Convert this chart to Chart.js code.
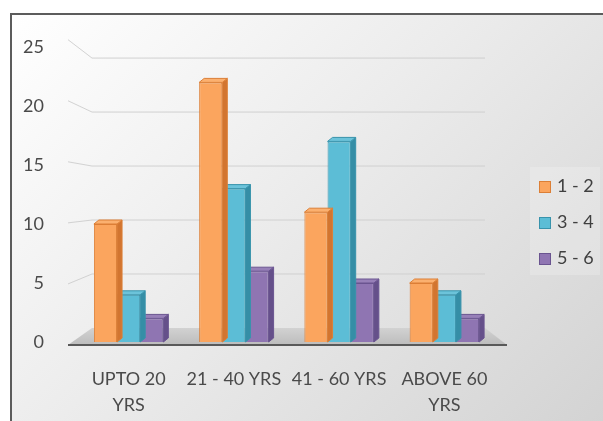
<!DOCTYPE html>
<html>
<head>
<meta charset="utf-8">
<script src="https://cdn.jsdelivr.net/npm/chart.js@4/dist/chart.umd.min.js"></script>
<style>
    body { margin: 0; background: #ffffff; }
    #frame {
        position: absolute; left: 10px; top: 13px; width: 593px; height: 408px;
        border-top: 2px solid #5c5c5c; border-left: 2px solid #5c5c5c;
        background: linear-gradient(135deg, #ffffff 0%, #ececec 45%, #d3d3d3 100%);
    }
    #c { position: absolute; left: 0; top: 0; }
    #legend {
        position: absolute; left: 530px; top: 167px; width: 70px; height: 108px;
        background: rgba(255, 255, 255, 0.2);
        font-family: Lato, sans-serif; font-size: 18px; color: #404040;
    }
    .item { position: absolute; left: 9px; height: 20px; line-height: 20px; white-space: nowrap; }
    .item span.box { display: inline-block; width: 10px; height: 10px; border: 1px solid; margin-right: 6px; vertical-align: -1px; }
</style>
</head>
<body>
<div id="frame"></div>
<canvas id="c" width="603" height="421"></canvas>
<div id="legend"></div>
<script>
// age groups on the x axis
var categories = [['UPTO 20', 'YRS'], '21 - 40 YRS', '41 - 60 YRS', ['ABOVE 60', 'YRS']];
var seriesNames = ['1 - 2', '3 - 4', '5 - 6'];
var values12 = [10, 22, 11, 5];
var values34 = [4, 13, 17, 4];
var values56 = [2, 6, 5, 2];
var yTicks = [0, 5, 10, 15, 20, 25];

// front, side, top and edge colours for each series
var fronts = ['#fba55e', '#5cbdd6', '#8f75b2'];
var sides = ['#d27530', '#358ea6', '#65508a'];
var tops = ['#fbb06f', '#6cc3da', '#9780b8'];
var edges = ['#dc7f36', '#3893ac', '#6a5490'];

var DX = 5, DY = -4;

// floor, back wall gridlines
var floorPlugin = {
    id: 'floor',
    beforeDatasetsDraw(chart) {
        var ctx = chart.ctx;
        var y = chart.scales.y;
        var area = chart.chartArea;
        var base = y.getPixelForValue(0);
        var per = (base - y.getPixelForValue(25)) / 25;
        var front = v => base + 3 - v * per * 1.035;
        var back = v => base - 14 - v * per * 0.915;
        var fl = area.left - 8, fr = area.right + 10, bl = area.left + 16, br = area.right - 12;

        ctx.save();
        ctx.strokeStyle = 'rgba(205,205,205,0.9)';
        ctx.lineWidth = 1;
        for (var i = 1; i < yTicks.length; i++) {
            var v = yTicks[i];
            ctx.beginPath();
            ctx.moveTo(fl, front(v));
            ctx.lineTo(bl, back(v));
            ctx.lineTo(br, back(v));
            ctx.stroke();
        }

        var g = ctx.createLinearGradient(0, back(0), 0, front(0));
        g.addColorStop(0, '#d2d2d2');
        g.addColorStop(1, '#bcbcbc');
        ctx.fillStyle = g;
        ctx.beginPath();
        ctx.moveTo(fl, front(0));
        ctx.lineTo(bl, back(0));
        ctx.lineTo(br, back(0));
        ctx.lineTo(fr, front(0));
        ctx.closePath();
        ctx.fill();

        ctx.strokeStyle = '#595959';
        ctx.lineWidth = 2;
        ctx.beginPath();
        ctx.moveTo(fl, front(0));
        ctx.lineTo(fr, front(0));
        ctx.stroke();
        ctx.restore();
    },
    // side and top faces, drawn per dataset so the next series covers them
    afterDatasetDraw(chart, args) {
        var ctx = chart.ctx;
        var i = args.index;
        ctx.save();
        ctx.lineWidth = 1;
        ctx.strokeStyle = edges[i];
        args.meta.data.forEach(function (bar) {
            var p = bar.getProps(['x', 'y', 'base', 'width'], true);
            var x2 = p.x + p.width / 2, x1 = p.x - p.width / 2;
            ctx.fillStyle = sides[i];
            ctx.beginPath();
            ctx.moveTo(x2, p.y);
            ctx.lineTo(x2 + DX, p.y + DY);
            ctx.lineTo(x2 + DX, p.base + DY);
            ctx.lineTo(x2, p.base);
            ctx.closePath();
            ctx.fill();
            ctx.stroke();
            ctx.fillStyle = tops[i];
            ctx.beginPath();
            ctx.moveTo(x1, p.y);
            ctx.lineTo(x1 + DX, p.y + DY);
            ctx.lineTo(x2 + DX, p.y + DY);
            ctx.lineTo(x2, p.y);
            ctx.closePath();
            ctx.fill();
            ctx.stroke();
        });
        ctx.restore();
    }
};

var allValues = [values12, values34, values56];
var datasets = allValues.map(function (vals, i) {
    return {
        label: seriesNames[i],
        data: vals,
        backgroundColor: fronts[i],
        borderColor: edges[i],
        borderWidth: 1,
        categoryPercentage: 0.66,
        barPercentage: 1
    };
});

var font = { family: 'Lato, sans-serif', size: 18 };

new Chart('c', {
    type: 'bar',
    data: { labels: categories, datasets: datasets },
    options: {
        responsive: false,
        devicePixelRatio: 1,
        animation: false,
        layout: { padding: { top: 47, left: 0, right: 106, bottom: 0 } },
        plugins: { legend: { display: false }, tooltip: { enabled: false } },
        scales: {
            x: {
                grid: { display: false },
                border: { display: false },
                ticks: { color: '#4a4a4a', font: { family: font.family, size: 18, lineHeight: 1.4 }, padding: 17, maxRotation: 0 },
                afterFit: function (scale) { scale.height = 79; }
            },
            y: {
                min: 0, max: 25,
                grid: { display: false },
                border: { display: false },
                ticks: { stepSize: 5, color: '#4a4a4a', font: font, padding: 24 },
                afterFit: function (scale) { scale.width = 76; }
            }
        }
    },
    plugins: [floorPlugin]
});

// legend beside the chart
var legend = document.getElementById('legend');
seriesNames.forEach(function (name, i) {
    var div = document.createElement('div');
    div.className = 'item';
    div.style.top = (8 + i * 36) + 'px';
    div.innerHTML = '<span class="box" style="background:' + fronts[i] + ';border-color:' + edges[i] + '"></span>' + name;
    legend.appendChild(div);
});
</script>
</body>
</html>
